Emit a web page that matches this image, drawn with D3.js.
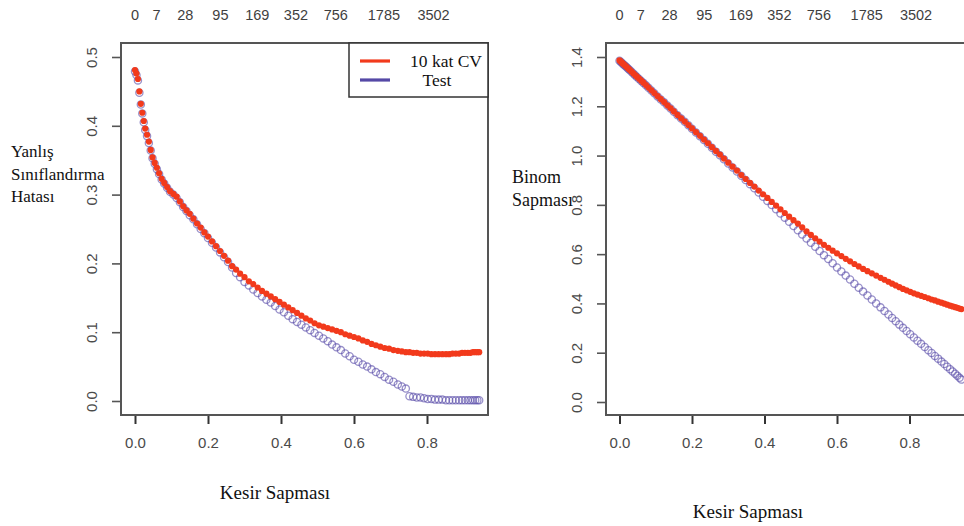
<!DOCTYPE html>
<html>
<head>
<meta charset="utf-8">
<script src="https://cdn.jsdelivr.net/npm/d3@7"></script>
<style>
  body { margin: 0; background: #fff; }
  svg { display: block; }
</style>
</head>
<body>
<svg id="chart" width="964" height="526"></svg>
<script>
// Fraction of deviance explained along the lambda path (shared by both panels)
const fracDev = [
  0.000, 0.004, 0.008, 0.012, 0.016, 0.020, 0.024, 0.028, 0.033, 0.038,
  0.043, 0.048, 0.054, 0.060, 0.066, 0.073, 0.080, 0.088, 0.096, 0.105,
  0.114, 0.123, 0.132, 0.141, 0.150, 0.160, 0.170, 0.180, 0.190, 0.200,
  0.211, 0.222, 0.233, 0.244, 0.255, 0.266, 0.277, 0.288, 0.300, 0.312,
  0.324, 0.336, 0.348, 0.360, 0.372, 0.384, 0.396, 0.408, 0.420, 0.432,
  0.444, 0.456, 0.468, 0.480, 0.492, 0.504, 0.516, 0.528, 0.540, 0.552,
  0.564, 0.576, 0.588, 0.600, 0.612, 0.624, 0.636, 0.648, 0.660, 0.672,
  0.684, 0.696, 0.708, 0.720, 0.731, 0.742, 0.752, 0.762, 0.772, 0.782,
  0.792, 0.802, 0.812, 0.822, 0.832, 0.842, 0.852, 0.861, 0.870, 0.879,
  0.888, 0.896, 0.904, 0.912, 0.919, 0.926, 0.932, 0.938, 0.943
];

// Misclassification error: 10-fold CV and test set
const cvMisclass = [
  0.481, 0.476, 0.468, 0.450, 0.432, 0.419, 0.407, 0.396, 0.387, 0.377,
  0.365, 0.354, 0.346, 0.339, 0.331, 0.323, 0.317, 0.311, 0.305, 0.301,
  0.297, 0.290, 0.283, 0.277, 0.272, 0.265, 0.258, 0.252, 0.245, 0.239,
  0.232, 0.225, 0.218, 0.211, 0.204, 0.196, 0.191, 0.185, 0.180, 0.174,
  0.170, 0.165, 0.160, 0.156, 0.152, 0.148, 0.144, 0.140, 0.136, 0.132,
  0.128, 0.124, 0.120, 0.117, 0.113, 0.110, 0.108, 0.106, 0.104, 0.102,
  0.100, 0.097, 0.095, 0.093, 0.091, 0.088, 0.086, 0.083, 0.081, 0.079,
  0.077, 0.076, 0.074, 0.073, 0.072, 0.071, 0.071, 0.070, 0.070, 0.069,
  0.069, 0.069, 0.068, 0.068, 0.068, 0.068, 0.068, 0.068, 0.069, 0.069,
  0.069, 0.070, 0.070, 0.070, 0.070, 0.071, 0.071, 0.071, 0.071
];
const testMisclass = [
  0.479, 0.474, 0.466, 0.448, 0.431, 0.418, 0.405, 0.394, 0.385, 0.375,
  0.364, 0.353, 0.345, 0.337, 0.330, 0.322, 0.316, 0.310, 0.304, 0.300,
  0.295, 0.289, 0.282, 0.276, 0.270, 0.264, 0.257, 0.250, 0.244, 0.237,
  0.230, 0.223, 0.216, 0.209, 0.202, 0.194, 0.186, 0.180, 0.173, 0.168,
  0.162, 0.157, 0.152, 0.147, 0.143, 0.138, 0.133, 0.129, 0.124, 0.119,
  0.115, 0.111, 0.107, 0.103, 0.099, 0.095, 0.091, 0.087, 0.082, 0.078,
  0.074, 0.069, 0.065, 0.060, 0.057, 0.053, 0.050, 0.046, 0.042, 0.039,
  0.035, 0.031, 0.028, 0.024, 0.021, 0.018, 0.007, 0.006, 0.005, 0.005,
  0.004, 0.003, 0.003, 0.002, 0.002, 0.002, 0.001, 0.001, 0.001, 0.001,
  0.001, 0.001, 0.001, 0.001, 0.001, 0.001, 0.001, 0.001, 0.001
];

// Binomial deviance: 10-fold CV and test set
const cvDeviance = [
  1.386, 1.381, 1.375, 1.370, 1.364, 1.359, 1.353, 1.348, 1.341, 1.334,
  1.327, 1.320, 1.312, 1.304, 1.296, 1.286, 1.276, 1.265, 1.254, 1.241,
  1.229, 1.217, 1.204, 1.192, 1.179, 1.165, 1.151, 1.138, 1.124, 1.110,
  1.095, 1.080, 1.065, 1.050, 1.034, 1.019, 1.004, 0.988, 0.971, 0.955,
  0.939, 0.921, 0.905, 0.889, 0.874, 0.858, 0.843, 0.828, 0.812, 0.797,
  0.782, 0.767, 0.752, 0.738, 0.724, 0.709, 0.692, 0.678, 0.664, 0.651,
  0.638, 0.626, 0.614, 0.603, 0.592, 0.581, 0.571, 0.560, 0.550, 0.540,
  0.531, 0.522, 0.513, 0.504, 0.496, 0.488, 0.480, 0.473, 0.466, 0.459,
  0.453, 0.447, 0.441, 0.436, 0.431, 0.426, 0.421, 0.416, 0.412, 0.407,
  0.403, 0.399, 0.395, 0.391, 0.388, 0.385, 0.382, 0.379, 0.377
];
const testDeviance = [
  1.385, 1.380, 1.374, 1.369, 1.363, 1.358, 1.352, 1.347, 1.340, 1.333,
  1.326, 1.319, 1.311, 1.303, 1.295, 1.285, 1.275, 1.264, 1.253, 1.240,
  1.228, 1.216, 1.203, 1.191, 1.178, 1.164, 1.150, 1.137, 1.123, 1.109,
  1.094, 1.078, 1.063, 1.048, 1.032, 1.016, 1.001, 0.985, 0.968, 0.952,
  0.935, 0.918, 0.901, 0.884, 0.867, 0.850, 0.833, 0.816, 0.799, 0.782,
  0.765, 0.748, 0.731, 0.714, 0.697, 0.680, 0.663, 0.646, 0.630, 0.613,
  0.596, 0.580, 0.563, 0.546, 0.530, 0.513, 0.497, 0.480, 0.464, 0.448,
  0.432, 0.416, 0.400, 0.384, 0.369, 0.355, 0.341, 0.328, 0.314, 0.301,
  0.288, 0.275, 0.262, 0.249, 0.236, 0.223, 0.210, 0.199, 0.187, 0.176,
  0.164, 0.154, 0.143, 0.133, 0.124, 0.115, 0.107, 0.098, 0.091
];

// Number of non-zero coefficients shown along the top
const nonzeroLabels = ["0", "7", "28", "95", "169", "352", "756", "1785", "3502"];
const nonzeroAt = [0, 0.059, 0.138, 0.234, 0.335, 0.441, 0.55, 0.682, 0.818];

const xTicks = [0, 0.2, 0.4, 0.6, 0.8];
const misclassTicks = [0, 0.1, 0.2, 0.3, 0.4, 0.5];
const devianceTicks = [0, 0.2, 0.4, 0.6, 0.8, 1.0, 1.2, 1.4];

const legendNames = ["10 kat CV", "Test"];

const RED = "#f23a1c";
const BLUE = "#5548a6";
const AXIS = "#555";
const SANS = "'Liberation Sans', Arial, sans-serif";
const SERIF = "'Liberation Serif', 'Times New Roman', serif";

const svg = d3.select("#chart");

function drawPanel(cfg) {
  const g = svg.append("g");
  const x = d3.scaleLinear().domain([0, 0.8]).range(cfg.xRange);
  const y = d3.scaleLinear().domain(cfg.yDomain).range(cfg.yRange);
  const f = cfg.frame;

  // y axis with rotated labels
  const ya = g.append("g")
    .attr("transform", `translate(${f.left - 1},0)`)
    .call(d3.axisLeft(y).tickValues(cfg.yTicks).tickSize(8)
      .tickFormat(d3.format(".1f")));
  ya.select(".domain").remove();
  ya.selectAll("line").attr("stroke", AXIS).attr("stroke-width", 1.6);
  ya.selectAll("text")
    .attr("transform", "rotate(-90)")
    .attr("x", 0).attr("y", -28).attr("dy", "0.35em")
    .attr("text-anchor", "middle")
    .attr("fill", "#4a4a4a")
    .style("font", `15px ${SANS}`);

  // x axis
  const xa = g.append("g")
    .attr("transform", `translate(0,${f.bottom + 1})`)
    .call(d3.axisBottom(x).tickValues(xTicks).tickSize(8)
      .tickFormat(d3.format(".1f")));
  xa.select(".domain").remove();
  xa.selectAll("line").attr("stroke", "#333").attr("stroke-width", 2);
  xa.selectAll("text")
    .attr("y", 21).attr("dy", "0.71em")
    .attr("fill", "#4a4a4a")
    .style("font", `15px ${SANS}`);

  // top labels: non-zero coefficient counts
  g.append("g").selectAll("text")
    .data(nonzeroLabels)
    .join("text")
    .attr("x", (d, i) => x(nonzeroAt[i]))
    .attr("y", 20)
    .attr("text-anchor", "middle")
    .attr("fill", "#3f3f3f")
    .style("font", `14.5px ${SANS}`)
    .text(d => d);

  // plot frame
  g.append("rect")
    .attr("x", f.left).attr("y", f.top)
    .attr("width", f.right - f.left).attr("height", f.bottom - f.top)
    .attr("fill", "none").attr("stroke", AXIS).attr("stroke-width", 2);

  const pts = fracDev.map((v, i) => ({ x: v, cv: cfg.cv[i], test: cfg.test[i] }));

  // test-set points: open circles
  g.append("g").selectAll("circle")
    .data(pts)
    .join("circle")
    .attr("cx", d => x(d.x))
    .attr("cy", d => y(d.test))
    .attr("r", 3.6)
    .attr("fill", "none")
    .attr("stroke", BLUE)
    .attr("stroke-opacity", 0.6)
    .attr("stroke-width", 1.3);

  // CV points: filled dots
  g.append("g").selectAll("circle")
    .data(pts)
    .join("circle")
    .attr("cx", d => x(d.x))
    .attr("cy", d => y(d.cv))
    .attr("r", 3.1)
    .attr("fill", RED);

  // axis titles
  g.append("text")
    .attr("x", cfg.xTitle[0]).attr("y", cfg.xTitle[1])
    .attr("text-anchor", "middle")
    .attr("fill", "#111")
    .style("font", `19px ${SERIF}`)
    .text("Kesir Sapması");

  const yt = g.append("text")
    .attr("fill", "#111")
    .style("font", `${cfg.yTitleSize}px ${SERIF}`);
  cfg.yTitle.forEach((line, i) => {
    yt.append("tspan")
      .attr("x", cfg.yTitlePos[0])
      .attr("y", cfg.yTitlePos[1] + i * cfg.yTitleGap)
      .text(line);
  });

  return g;
}

const left = drawPanel({
  frame: { left: 121, top: 43, right: 488, bottom: 415 },
  xRange: [135, 427],
  yDomain: [0, 0.5], yRange: [401, 57],
  yTicks: misclassTicks,
  cv: cvMisclass, test: testMisclass,
  xTitle: [275, 499],
  yTitle: ["Yanlış", "Sınıflandırma", "Hatası"],
  yTitlePos: [11, 157], yTitleGap: 22.5, yTitleSize: 17
});

drawPanel({
  frame: { left: 606, top: 43, right: 990, bottom: 415 },
  xRange: [619.5, 909.5],
  yDomain: [0, 1.4], yRange: [402, 57],
  yTicks: devianceTicks,
  cv: cvDeviance, test: testDeviance,
  xTitle: [748, 518],
  yTitle: ["Binom", "Sapması"],
  yTitlePos: [512, 183], yTitleGap: 23, yTitleSize: 18
});

// legend in the left panel
const lg = left.append("g");
lg.append("rect")
  .attr("x", 349).attr("y", 43).attr("width", 139).attr("height", 54)
  .attr("fill", "#fff").attr("stroke", "#333").attr("stroke-width", 1.5);
const legendColors = [RED, BLUE];
legendNames.forEach((name, i) => {
  const cy = 61 + i * 19;
  lg.append("line")
    .attr("x1", 360).attr("x2", 390).attr("y1", cy).attr("y2", cy)
    .attr("stroke", legendColors[i]).attr("stroke-width", 3.2);
  lg.append("text")
    .attr("x", i === 0 ? 446 : 437).attr("y", cy + 6)
    .attr("text-anchor", "middle")
    .attr("fill", "#111")
    .style("font", `17.5px ${SERIF}`)
    .text(name);
});
</script>
</body>
</html>
